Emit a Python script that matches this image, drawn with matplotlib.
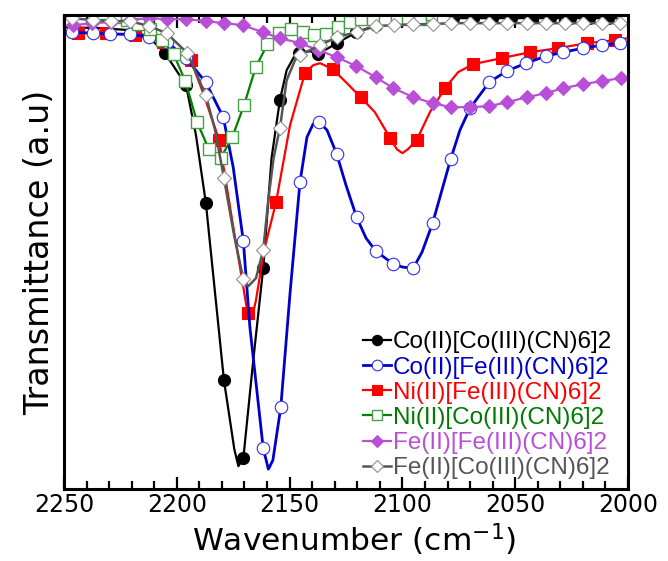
import matplotlib
matplotlib.use("Agg")
import matplotlib.pyplot as plt
from matplotlib.lines import Line2D
from matplotlib.ticker import MultipleLocator


# Co(II)[Co(III)(CN)6]2 (black)
co_co_line_x = [2250, 2234.0, 2220.7, 2212.3, 2205.2, 2195.9, 2191.5, 2187.1, 2179.1, 2174.5, 2172.7,
                2170.5, 2166.1, 2161.7, 2158.0, 2154.3, 2151.3, 2147.6, 2145.7, 2141.0, 2137.3,
                2129.1, 2120.3, 2111.4, 2102.5, 2090.0, 2000]
co_co_line_y = [462, 461, 459, 452, 436, 404, 354, 286, 109, 40, 23,
                31, 129, 221, 331, 389, 419, 434, 436, 438, 435,
                446, 457, 464, 469, 471, 471]
co_co_mark_x = [2205.2, 2195.9, 2187.1, 2179.1, 2170.5, 2161.7, 2154.3, 2145.7, 2137.3, 2129.1,
                2120.5, 2111.9, 2103.3, 2094.7, 2086.1, 2077.5, 2068.9, 2060.3, 2051.7, 2043.1,
                2034.5, 2025.9, 2017.3, 2008.7, 2000.1]
co_co_mark_y = [436, 404, 286, 109, 31, 221, 389, 436, 435, 446,
                457, 464, 469, 471, 471, 471, 471, 471, 471, 471,
                471, 471, 471, 471, 471]

# Co(II)[Fe(III)(CN)6]2 (blue)
co_fe_line_x = [2250, 2246.6, 2237.3, 2229.6, 2220.7, 2212.2, 2204.2, 2195.9, 2187.2, 2179.4, 2175.0,
                2170.5, 2167.6, 2161.7, 2159.4, 2157.4, 2153.9, 2149.8, 2145.4, 2142.3, 2139.6,
                2136.8, 2133.4, 2129.1, 2125.0, 2120.3, 2116.1, 2111.7, 2104.0, 2099.7, 2095.2,
                2091.3, 2086.6, 2078.6, 2074.5, 2070.0, 2061.5, 2053.8, 2045.2, 2036.4, 2028.7,
                2019.8, 2011.7, 2003.5, 2000]
co_fe_line_y = [458, 457, 456, 455, 455, 452, 447, 431, 407, 372, 322,
                248, 162, 41, 20, 29, 82, 196, 307, 352, 365,
                367, 359, 335, 304, 272, 251, 238, 225, 222, 221,
                237, 266, 330, 359, 381, 407, 418, 426, 433, 437,
                441, 444, 446, 447]
co_fe_mark_x = [2246.6, 2237.3, 2229.6, 2220.7, 2212.2, 2204.2, 2195.9, 2187.2, 2179.4, 2170.5,
                2161.7, 2153.9, 2145.4, 2136.8, 2129.1, 2120.3, 2111.7, 2104.0, 2095.2, 2086.6,
                2078.6, 2070.0, 2061.5, 2053.8, 2045.2, 2036.4, 2028.7, 2019.8, 2011.7, 2003.5]
co_fe_mark_y = [457, 456, 455, 455, 452, 447, 431, 407, 372, 248,
                41, 82, 307, 367, 335, 272, 238, 225, 221, 266,
                330, 381, 407, 418, 426, 433, 437, 441, 444, 446]

# Ni(II)[Fe(III)(CN)6]2 (red)
ni_fe_line_x = [2250, 2243.7, 2231.4, 2218.5, 2206.1, 2193.8, 2188.3, 2181.2, 2175.1, 2168.6,
                2166.8, 2164.9, 2161.3, 2156.0, 2149.8, 2143.2, 2139.5, 2136.5, 2130.9, 2124.6,
                2118.5, 2112.2, 2105.4, 2102.5, 2100.0, 2097.5, 2093.7, 2087.8, 2081.1, 2075.3,
                2068.6, 2056.0, 2043.4, 2030.9, 2018.3, 2005.8, 2000]
ni_fe_line_y = [457, 456, 456, 454, 447, 429, 396, 349, 264, 176,
                170, 189, 239, 287, 364, 416, 424, 426, 420, 406,
                392, 377, 351, 340, 336, 340, 349, 377, 401, 417,
                425, 431, 437, 441, 446, 449, 451]
ni_fe_mark_x = [2243.7, 2231.4, 2218.5, 2206.1, 2193.8, 2181.2, 2168.6, 2156.0, 2143.2, 2130.9,
                2118.5, 2105.4, 2093.7, 2081.1, 2068.6, 2056.0, 2043.4, 2030.9, 2018.3, 2005.8]
ni_fe_mark_y = [456, 456, 454, 447, 429, 349, 176, 287, 416, 420,
                392, 351, 349, 401, 425, 431, 437, 441, 446, 449]

# Ni(II)[Co(III)(CN)6]2 (green)
ni_co_x = [2248.2, 2243.0, 2237.8, 2232.6, 2227.4, 2222.2, 2217.0, 2211.8, 2206.6, 2201.4,
           2196.2, 2191.0, 2185.8, 2180.6, 2175.4, 2170.2, 2165.0, 2159.8, 2154.6, 2149.4,
           2144.2, 2139.0, 2133.8, 2128.6, 2123.4, 2118.2, 2113.0, 2107.8, 2102.6, 2097.4,
           2092.2, 2087.0, 2081.8, 2076.6, 2071.4, 2066.2, 2061.0, 2055.8, 2050.6, 2045.4,
           2040.2, 2035.0, 2029.8, 2024.6, 2019.4, 2014.2, 2009.0, 2002.0]
ni_co_y = [484, 483, 480, 476, 472, 469, 465, 460, 449, 435,
           408, 367, 340, 331, 352, 384, 422, 445, 456, 460,
           457, 454, 455, 462, 467, 470, 470, 470, 470, 470,
           470, 475, 472, 479, 483, 485, 486, 486, 486, 486,
           486, 486, 486, 486, 485, 484, 481, 472]

# Fe(II)[Fe(III)(CN)6]2 (purple)
fe_fe_x = [2250, 2245.8, 2237.4, 2229.0, 2220.6, 2212.2, 2204.2, 2195.9, 2187.2, 2179.1,
           2170.8, 2161.9, 2154.3, 2145.4, 2137.3, 2129.1, 2120.4, 2111.9, 2104.0, 2095.2,
           2086.6, 2078.5, 2070.0, 2061.5, 2053.5, 2044.8, 2036.4, 2028.7, 2019.8, 2011.7,
           2003.2, 2000]
fe_fe_y = [463, 464, 466, 467, 469, 471, 470, 470, 468, 466,
           464, 457, 451, 446, 439, 432, 423, 412, 401, 392,
           386, 382, 382, 383, 387, 392, 396, 401, 405, 408,
           411, 412]

# Fe(II)[Co(III)(CN)6]2 (grey)
fe_co_line_x = [2250, 2246.6, 2237.3, 2229.3, 2220.7, 2212.2, 2204.5, 2195.3, 2187.2, 2183.0,
                2179.1, 2174.6, 2170.5, 2168.3, 2164.9, 2161.7, 2159.4, 2157.1, 2154.3, 2151.3,
                2147.6, 2145.4, 2136.5, 2129.1, 2120.3, 2111.7, 2103.7, 2095.2, 2086.6, 2078.5,
                2000]
fe_co_line_y = [471, 471, 469, 468, 468, 463, 456, 436, 394, 359,
                311, 254, 210, 203, 211, 239, 290, 331, 361, 409,
                429, 434, 444, 452, 457, 463, 464, 465, 465, 466,
                466]
fe_co_mark_x = [2246.6, 2237.3, 2229.3, 2220.7, 2212.2, 2204.5, 2195.3, 2187.2, 2179.1, 2170.5,
                2161.7, 2154.3, 2145.4, 2136.5, 2129.1, 2120.3, 2111.7, 2103.7, 2095.2, 2086.6,
                2078.5, 2070.0, 2061.5, 2053.5, 2044.9, 2036.4, 2028.0, 2019.8, 2011.7, 2003.5]
fe_co_mark_y = [471, 469, 468, 468, 463, 456, 436, 394, 311, 210,
                239, 361, 434, 444, 452, 457, 463, 464, 465, 465,
                466, 466, 466, 466, 466, 466, 466, 466, 466, 466]

labels = ["Co(II)[Co(III)(CN)6]2", "Co(II)[Fe(III)(CN)6]2", "Ni(II)[Fe(III)(CN)6]2",
          "Ni(II)[Co(III)(CN)6]2", "Fe(II)[Fe(III)(CN)6]2", "Fe(II)[Co(III)(CN)6]2"]


BLACK = "#000000"
BLUE = "#0000CC"
RED = "#FF0000"
GREEN = "#008000"
PURPLE = "#B94FD8"
GREY = "#555555"

styles = [
    dict(color=BLACK, marker="o", ms=8.5, mfc=BLACK, mec=BLACK, mew=1.0, lw=1.6),
    dict(color=BLUE, marker="o", ms=9, mfc="white", mec="#3030E8", mew=0.8, lw=2.0),
    dict(color=RED, marker="s", ms=9, mfc=RED, mec=RED, mew=0.8, lw=1.6),
    dict(color=GREEN, marker="s", ms=9, mfc="white", mec="#45A045", mew=1.0, lw=1.6),
    dict(color=PURPLE, marker="D", ms=7.5, mfc=PURPLE, mec=PURPLE, mew=0.8, lw=1.6),
    dict(color=GREY, marker="D", ms=7.5, mfc="white", mec="#909090", mew=0.8, lw=1.8),
]
text_colors = [BLACK, BLUE, RED, "#007A00", PURPLE, GREY]


def draw(ax, lx, ly, mx, my, st):
    ax.plot(lx, ly, color=st["color"], lw=st["lw"], zorder=2)
    ax.plot(mx, my, ls="none", marker=st["marker"], ms=st["ms"], mfc=st["mfc"],
            mec=st["mec"], mew=st["mew"], zorder=2)


def main():
    plt.rcParams["font.family"] = ["DejaVu Sans"]
    fig = plt.figure(figsize=(6.68, 5.61), dpi=100)
    ax = fig.add_axes([0.0958, 0.128, 0.8443, 0.845])

    draw(ax, co_co_line_x, co_co_line_y, co_co_mark_x, co_co_mark_y, styles[0])
    draw(ax, ni_fe_line_x, ni_fe_line_y, ni_fe_mark_x, ni_fe_mark_y, styles[2])
    draw(ax, co_fe_line_x, co_fe_line_y, co_fe_mark_x, co_fe_mark_y, styles[1])
    draw(ax, ni_co_x, ni_co_y, ni_co_x, ni_co_y, styles[3])
    draw(ax, fe_fe_x, fe_fe_y, fe_fe_x[1:-1], fe_fe_y[1:-1], styles[4])
    draw(ax, fe_co_line_x, fe_co_line_y, fe_co_mark_x, fe_co_mark_y, styles[5])

    ax.set_xlim(2250, 2000)
    ax.set_ylim(0, 474)
    ax.set_yticks([])
    ax.xaxis.set_major_locator(MultipleLocator(50))
    ax.xaxis.set_minor_locator(MultipleLocator(10))
    ax.tick_params(axis="x", which="both", direction="in", top=True, bottom=True,
                   labelsize=17, pad=3)
    ax.tick_params(axis="x", which="major", length=9, width=1.6)
    ax.tick_params(axis="x", which="minor", length=5.5, width=1.6)
    for sp in ax.spines.values():
        sp.set_linewidth(2.2)

    ax.set_xlabel("Wavenumber (cm$^{-1}$)", fontsize=22.5)
    ax.xaxis.set_label_coords(0.515, -0.068)
    ax.set_ylabel("Transmittance (a.u)", fontsize=24, labelpad=6)

    handles = [Line2D([], [], color=st["color"], lw=st["lw"], marker=st["marker"],
                      ms=st["ms"] * 0.85, mfc=st["mfc"], mec=st["mec"], mew=st["mew"])
               for st in styles]
    leg = ax.legend(handles, labels, loc="lower right", bbox_to_anchor=(0.998, -0.01),
                    frameon=False, handlelength=1.15, handletextpad=0.1,
                    labelspacing=0.13, borderaxespad=0.2,
                    prop={"family": "Liberation Sans", "size": 17.5})
    for txt, c in zip(leg.get_texts(), text_colors):
        txt.set_color(c)

    fig.savefig("out.png", dpi=100)
    plt.close(fig)


if __name__ == "__main__":
    main()
